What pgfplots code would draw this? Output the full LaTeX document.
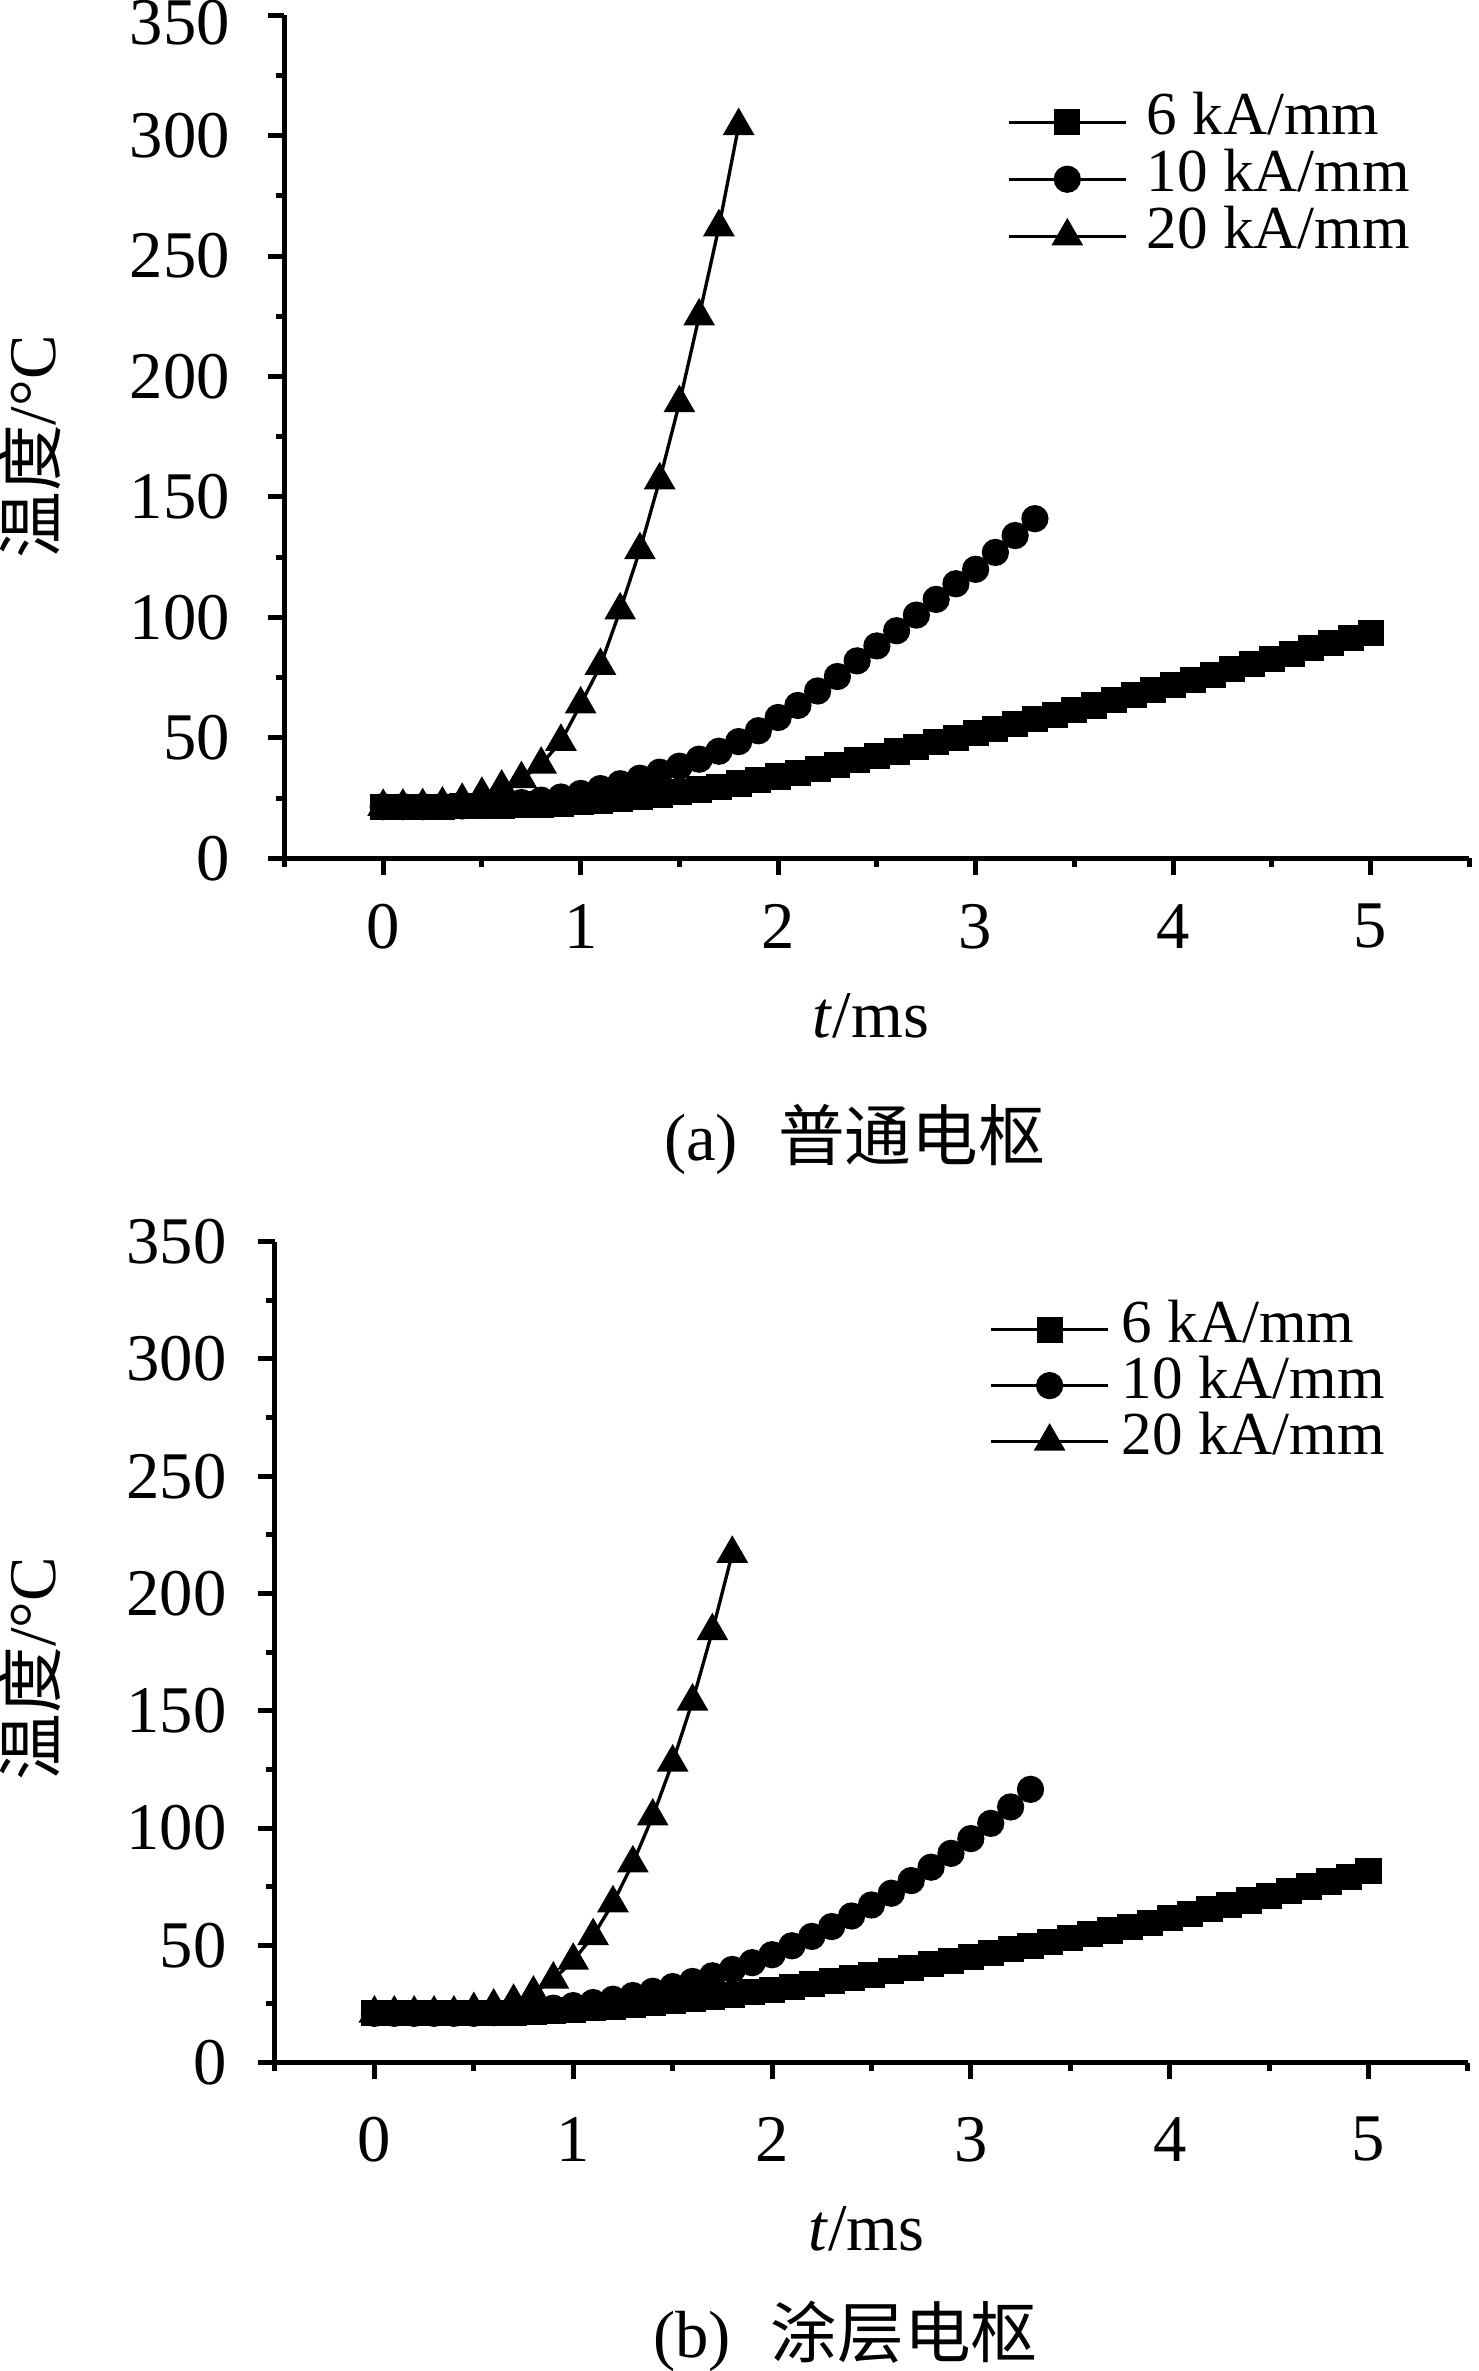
\documentclass[border=0pt]{standalone}
\usepackage{fontspec}
\setmainfont{Liberation Serif}
\newfontfamily\cjk{Noto Sans CJK SC}
\usepackage{pgfplots}
\usepackage{pgfplotstable}
\pgfplotsset{compat=1.18}

\pgfplotstableread{
t v
0 21.5
0.1 21.5
0.2 21.5
0.3 21.5
0.4 21.6
0.5 21.7
0.6 21.9
0.7 22.1
0.8 22.4
0.9 22.8
1.0 23.3
1.1 24.0
1.2 24.8
1.3 25.6
1.4 26.5
1.5 27.5
1.6 28.6
1.7 29.8
1.8 31.1
1.9 32.5
2.0 34.0
2.1 35.6
2.2 37.2
2.3 38.9
2.4 40.7
2.5 42.5
2.6 44.4
2.7 46.3
2.8 48.2
2.9 50.1
3.0 52.0
3.1 53.9
3.2 55.8
3.3 57.7
3.4 59.6
3.5 61.5
3.6 63.5
3.7 65.6
3.8 67.7
3.9 69.8
4.0 71.9
4.1 74.1
4.2 76.3
4.3 78.5
4.4 80.7
4.5 82.9
4.6 85.0
4.7 87.2
4.8 89.3
4.9 91.4
5.0 93.5
}\topsix

\pgfplotstableread{
t v
0 21.5
0.1 21.5
0.2 21.5
0.3 21.6
0.4 21.8
0.5 22.0
0.6 22.5
0.7 23.2
0.8 24.2
0.9 25.5
1.0 27.0
1.1 29.0
1.2 31.0
1.3 33.3
1.4 35.8
1.5 38.3
1.6 41.2
1.7 44.5
1.8 48.5
1.9 53.0
2.0 58.5
2.1 63.5
2.2 69.5
2.3 75.5
2.4 82.0
2.5 88.2
2.6 94.5
2.7 101.0
2.8 107.5
2.9 114.0
3.0 120.0
3.1 127.0
3.2 134.0
3.3 141.0
}\topten

\pgfplotstableread{
t v
0 21.5
0.1 21.6
0.2 21.8
0.3 22.5
0.4 24.0
0.5 26.5
0.6 29.5
0.7 33.0
0.8 39.0
0.9 48.5
1.0 64.0
1.1 80.0
1.2 103.0
1.3 128.0
1.4 157.0
1.5 189.0
1.6 225.0
1.7 262.0
1.8 304.0
}\toptwenty

\pgfplotstableread{
t v
0 21.0
0.1 21.0
0.2 21.0
0.3 21.0
0.4 21.0
0.5 21.0
0.6 21.1
0.7 21.3
0.8 21.6
0.9 22.0
1.0 22.6
1.1 23.2
1.2 23.9
1.3 24.6
1.4 25.4
1.5 26.2
1.6 27.1
1.7 28.0
1.8 29.0
1.9 30.0
2.0 31.0
2.1 32.2
2.2 33.4
2.3 34.7
2.4 36.0
2.5 37.4
2.6 38.9
2.7 40.4
2.8 41.9
2.9 43.5
3.0 45.1
3.1 46.7
3.2 48.3
3.3 49.9
3.4 51.5
3.5 53.1
3.6 54.7
3.7 56.3
3.8 58.0
3.9 59.7
4.0 61.5
4.1 63.4
4.2 65.3
4.3 67.2
4.4 69.1
4.5 71.0
4.6 73.0
4.7 75.1
4.8 77.2
4.9 79.3
5.0 81.5
}\botsix

\pgfplotstableread{
t v
0 21.0
0.1 21.0
0.2 21.0
0.3 21.0
0.4 21.0
0.5 21.0
0.6 21.3
0.7 21.7
0.8 22.3
0.9 23.2
1.0 24.3
1.1 25.6
1.2 27.0
1.3 28.6
1.4 30.4
1.5 32.4
1.6 34.6
1.7 37.0
1.8 39.7
1.9 42.6
2.0 46.0
2.1 49.8
2.2 53.8
2.3 58.0
2.4 62.5
2.5 67.2
2.6 72.2
2.7 77.6
2.8 83.3
2.9 89.2
3.0 95.5
3.1 102.0
3.2 109.0
3.3 116.5
}\botten

\pgfplotstableread{
t v
0 21.0
0.1 21.0
0.2 21.0
0.3 21.0
0.4 21.0
0.5 22.5
0.6 24.0
0.7 26.0
0.8 29.5
0.9 35.5
1.0 43.5
1.1 54.0
1.2 68.0
1.3 85.0
1.4 105.0
1.5 128.0
1.6 154.0
1.7 184.0
1.8 217.0
}\bottwenty

\pgfplotsset{
  mystyle/.style={
    scale only axis,
    axis lines*=left,
    axis line style={line width=0.9pt},
    xmin=-0.5, xmax=5.5, ymin=0, ymax=350,
    xtick={0,1,2,3,4,5},
    minor xtick={-0.5,0.5,1.5,2.5,3.5,4.5,5.5},
    minor ytick={25,75,125,175,225,275,325},
    tick align=outside,
    major tick length=3pt, minor tick length=1.6pt,
    every tick/.style={line width=0.9pt, black},
    every minor tick/.style={line width=0.9pt, black},
    tick label style={font=\fontsize{12}{14}\selectfont},
    /pgf/number format/assume math mode=true,
    label style={font=\fontsize{12}{14}\selectfont},
    clip=false,
    legend cell align=left,
    legend style={draw=none, fill=none, font=\fontsize{11}{12}\selectfont,
      inner sep=0pt, row sep=0pt},
    legend image code/.code={\draw[mark repeat=2,mark phase=2,##1] plot coordinates {(0cm,0cm) (0.37cm,0cm) (0.74cm,0cm)};},
  },
  sq/.style={black, line width=0.6pt, mark=square*, mark size=2.05pt, mark options={solid}},
  ci/.style={black, line width=0.6pt, mark=*, mark size=2.15pt, mark options={solid}},
  tr/.style={black, line width=0.6pt, mark=triangle*, mark size=2.7pt, mark options={solid}},
}

\begin{document}
\begin{tikzpicture}
\useasboundingbox (0,0) rectangle (266.2pt,-426.8pt);
\begin{axis}[mystyle, at={(51.2pt,-2.70pt)}, anchor=north west,
  width=213.3pt, height=151.83pt,
  ytick={0,50,100,150,200,250,300},
  extra y ticks={350},
  extra y tick style={yticklabel style={yshift=-1.4pt}},
  xticklabel style={yshift=-1.7pt}, yticklabel style={xshift=-3.3pt},
  xlabel={\textit{t}/ms}, xlabel style={at={(axis description cs:0.495,-0.186)}, anchor=center},
  ylabel={{\cjk 温度}/°C}, ylabel style={at={(axis description cs:-0.215,0.488)}, anchor=center},
  legend style={at={(axis description cs:0.609,0.908)}, anchor=north west, column sep=3.5pt,
    nodes={inner sep=0pt, text height=7.4pt, text depth=2.86pt}}]
\addplot[sq] table[x=t,y=v] {\topsix};
\addlegendentry{6 kA/mm}
\addplot[ci] table[x=t,y=v] {\topten};
\addlegendentry{10 kA/mm}
\addplot[tr] table[x=t,y=v] {\toptwenty};
\addlegendentry{20 kA/mm}
\node[font=\fontsize{12}{14}\selectfont] at (axis description cs:0.481,-0.333) {(a)\hspace{0.6em}{\cjk 普通电枢}};
\end{axis}

\begin{axis}[mystyle, at={(49.5pt,-223.5pt)}, anchor=north west,
  width=214.74pt, height=147.78pt,
  ytick={0,50,100,150,200,250,300,350},
  xticklabel style={yshift=-3.3pt}, yticklabel style={xshift=-2.2pt},
  xlabel={\textit{t}/ms}, xlabel style={at={(axis description cs:0.496,-0.203)}, anchor=center},
  ylabel={{\cjk 温度}/°C}, ylabel style={at={(axis description cs:-0.205,0.480)}, anchor=center},
  legend style={at={(axis description cs:0.598,0.928)}, anchor=north west, column sep=2.2pt,
    nodes={inner sep=0pt, text height=7.4pt, text depth=2.65pt}}]
\addplot[sq] table[x=t,y=v] {\botsix};
\addlegendentry{6 kA/mm}
\addplot[ci] table[x=t,y=v] {\botten};
\addlegendentry{10 kA/mm}
\addplot[tr] table[x=t,y=v] {\bottwenty};
\addlegendentry{20 kA/mm}
\node[font=\fontsize{12}{14}\selectfont] at (axis description cs:0.478,-0.3336) {(b)\hspace{0.6em}{\cjk 涂层电枢}};
\end{axis}
\end{tikzpicture}
\end{document}
